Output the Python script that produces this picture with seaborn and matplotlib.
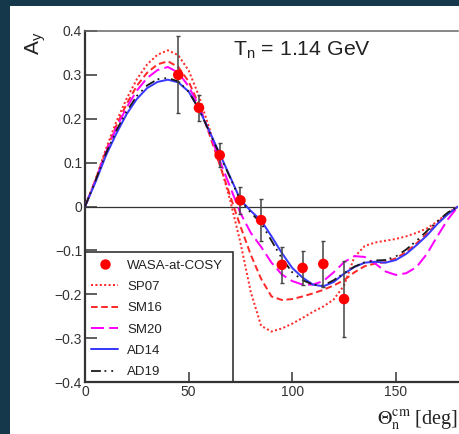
import matplotlib
matplotlib.use("Agg")
import matplotlib.pyplot as plt
from matplotlib.patches import Rectangle
from matplotlib.lines import Line2D
from matplotlib.ticker import MultipleLocator
import pandas as pd
import seaborn as sns

# ---------------- data ----------------
angles = [0, 5, 10, 15, 20, 25, 30, 35, 40, 45, 50, 55, 60, 65, 70, 75, 80, 85, 90,
          95, 100, 105, 110, 115, 120, 125, 130, 135, 140, 145, 150, 155, 160, 165,
          170, 175, 180]

sp07 = [0, 0.060, 0.130, 0.192, 0.245, 0.290, 0.324, 0.346, 0.356, 0.345, 0.310,
        0.252, 0.178, 0.100, 0.015, -0.082, -0.195, -0.272, -0.285, -0.278, -0.267,
        -0.254, -0.240, -0.228, -0.212, -0.180, -0.115, -0.090, -0.082, -0.078,
        -0.074, -0.068, -0.060, -0.050, -0.034, -0.015, 0]

sm16 = [0, 0.060, 0.125, 0.183, 0.233, 0.275, 0.305, 0.324, 0.331, 0.318, 0.285,
        0.232, 0.165, 0.095, 0.025, -0.045, -0.110, -0.165, -0.205, -0.213, -0.211,
        -0.205, -0.198, -0.190, -0.180, -0.168, -0.150, -0.136, -0.130, -0.127,
        -0.118, -0.104, -0.084, -0.062, -0.038, -0.016, 0]

sm20 = [0, 0.058, 0.122, 0.178, 0.225, 0.264, 0.293, 0.311, 0.318, 0.305, 0.274,
        0.228, 0.170, 0.105, 0.045, -0.015, -0.060, -0.092, -0.128, -0.155, -0.170,
        -0.178, -0.178, -0.170, -0.150, -0.127, -0.113, -0.115, -0.130, -0.148,
        -0.156, -0.152, -0.138, -0.108, -0.068, -0.030, 0]

ad14 = [0, 0.055, 0.115, 0.165, 0.210, 0.245, 0.270, 0.284, 0.289, 0.283, 0.262,
        0.222, 0.172, 0.120, 0.068, 0.015, -0.010, -0.032, -0.068, -0.106, -0.140,
        -0.162, -0.178, -0.182, -0.172, -0.153, -0.138, -0.128, -0.126, -0.128,
        -0.122, -0.108, -0.088, -0.066, -0.040, -0.018, 0]

ad19 = [0, 0.058, 0.120, 0.172, 0.216, 0.252, 0.276, 0.290, 0.293, 0.285, 0.262,
        0.222, 0.170, 0.118, 0.066, 0.014, -0.014, -0.038, -0.078, -0.118, -0.150,
        -0.168, -0.178, -0.180, -0.168, -0.152, -0.137, -0.127, -0.123, -0.122,
        -0.114, -0.098, -0.078, -0.056, -0.034, -0.014, 0]

wasa_theta = [45, 55, 65, 75, 85, 95, 105, 115, 125]
wasa_ay = [0.300, 0.225, 0.117, 0.014, -0.031, -0.133, -0.140, -0.131, -0.211]
wasa_err = [0.088, 0.030, 0.027, 0.031, 0.047, 0.041, 0.039, 0.052, 0.087]

x_ticks = [0, 50, 100, 150]
y_ticks = [-0.4, -0.3, -0.2, -0.1, 0, 0.1, 0.2, 0.3, 0.4]
y_tick_labels = ["\u22120.4", "\u22120.3", "\u22120.2", "\u22120.1", "0", "0.1", "0.2", "0.3", "0.4"]

# ---------------- styling ----------------
sns.set_theme(style="white")
plt.rcParams["font.family"] = ["Liberation Sans", "DejaVu Sans"]
plt.rcParams["mathtext.fontset"] = "custom"
plt.rcParams["mathtext.rm"] = "Liberation Sans"
plt.rcParams["mathtext.it"] = "Liberation Sans:italic"
plt.rcParams["axes.unicode_minus"] = True

W, H = 459, 434
fig = plt.figure(figsize=(W / 100, H / 100), dpi=100)
fig.patch.set_facecolor("#15394a")
fig.patches.append(Rectangle((10 / W, 0), 1 - 10 / W, (H - 6) / H,
                             transform=fig.transFigure, facecolor="white",
                             edgecolor="none", zorder=-5))

ax = fig.add_axes([85 / W, (H - 382) / H, (458 - 85) / W, (382 - 31) / H])
ax.set_facecolor("white")

curves = [
    ("SP07", sp07, "#ff2a2a", (0, (1.0, 1.2)), 2.0),
    ("SM16", sm16, "#ff2a2a", (0, (3.3, 1.8)), 2.0),
    ("SM20", sm20, "#ff00ff", (0, (6.5, 2.6)), 2.0),
    ("AD14", ad14, "#3a3aff", "-", 2.0),
    ("AD19", ad19, "#1a1a1a", (0, (5.5, 2.0, 1.0, 2.8, 1.0, 2.8)), 1.8),
]

handles = []
for name, vals, col, ls, lw in curves:
    df = pd.DataFrame({"theta": angles, "ay": vals})
    sns.lineplot(data=df, x="theta", y="ay", ax=ax, color=col, linestyle=ls,
                 linewidth=lw / 1.39, sort=False, estimator=None, zorder=3)
    handles.append(Line2D([], [], color=col, linestyle=ls, linewidth=lw / 1.39))

ax.errorbar(wasa_theta, wasa_ay, yerr=wasa_err, fmt="none", ecolor="#444444",
            elinewidth=1.1, capsize=1.6, capthick=1.0, zorder=4)
wdf = pd.DataFrame({"theta": wasa_theta, "ay": wasa_ay})
sns.scatterplot(data=wdf, x="theta", y="ay", ax=ax, color="#ff0000", s=58,
                edgecolor="none", zorder=5)

ax.axhline(0, color="#333333", linewidth=0.9, zorder=2)

ax.set_xlim(0, 180)
ax.set_ylim(-0.4, 0.4)
ax.set_xticks(x_ticks)
ax.set_yticks(y_ticks)
ax.set_yticklabels(y_tick_labels)
ax.xaxis.set_minor_locator(MultipleLocator(10))
ax.yaxis.set_minor_locator(MultipleLocator(0.02))
ax.tick_params(axis="both", which="both", direction="in", colors="#333333",
               labelcolor="#333333", labelsize=10)
ax.tick_params(axis="y", which="major", length=8.5, width=1.1, pad=2)
ax.tick_params(axis="y", which="minor", length=4.3, width=1.0)
ax.tick_params(axis="x", which="major", length=7.2, width=1.1, pad=2)
ax.tick_params(axis="x", which="minor", length=3.6, width=1.0)
ax.tick_params(left=True, bottom=True, top=False, right=False)

for s in ["left", "bottom"]:
    ax.spines[s].set_color("#333333")
    ax.spines[s].set_linewidth(1.6)
ax.spines["top"].set_color("#666666")
ax.spines["top"].set_linewidth(1.1)
ax.spines["right"].set_visible(False)

ax.set_xlabel(r"$\Theta_{\rm n}^{\rm cm}$ [deg]", fontsize=14.5, ha="right",
              va="baseline", family="Liberation Serif", math_fontfamily="stix",
              color="#222222")
ax.xaxis.set_label_coords(1.0, (382 - 424) / 351)
ax.set_ylabel(r"A$_{\rm y}$", fontsize=15, rotation=90, rotation_mode="anchor",
              ha="right", va="center", color="#222222")
ax.yaxis.set_label_coords((36 - 85) / 373, (382 - 32) / 351)

ax.text((233 - 85) / 373, (382 - 56) / 351, r"T$_{\rm n}$ = 1.14 GeV",
        transform=ax.transAxes, fontsize=15.3, ha="left", va="baseline",
        color="#222222")

# legend box (ROOT style)
ax.add_patch(Rectangle((0, 0), (233 - 85) / 373, (382 - 252) / 351,
                       transform=ax.transAxes, fill=False, edgecolor="#333333",
                       linewidth=1.2, zorder=6))
wasa_handle = Line2D([], [], color="#ff0000", marker="o", linestyle="none",
                     markersize=7.5, markeredgewidth=0)
leg = ax.legend([wasa_handle] + handles,
                ["WASA-at-COSY"] + [c[0] for c in curves],
                loc="upper left", bbox_to_anchor=(0.003, (382 - 254) / 351),
                frameon=False, fontsize=9.5, handlelength=2.0,
                handletextpad=0.7, labelspacing=0.69, borderaxespad=0,
                borderpad=0.4)
for t in leg.get_texts():
    t.set_color("#222222")

fig.savefig("out.png", dpi=100, facecolor=fig.get_facecolor())
